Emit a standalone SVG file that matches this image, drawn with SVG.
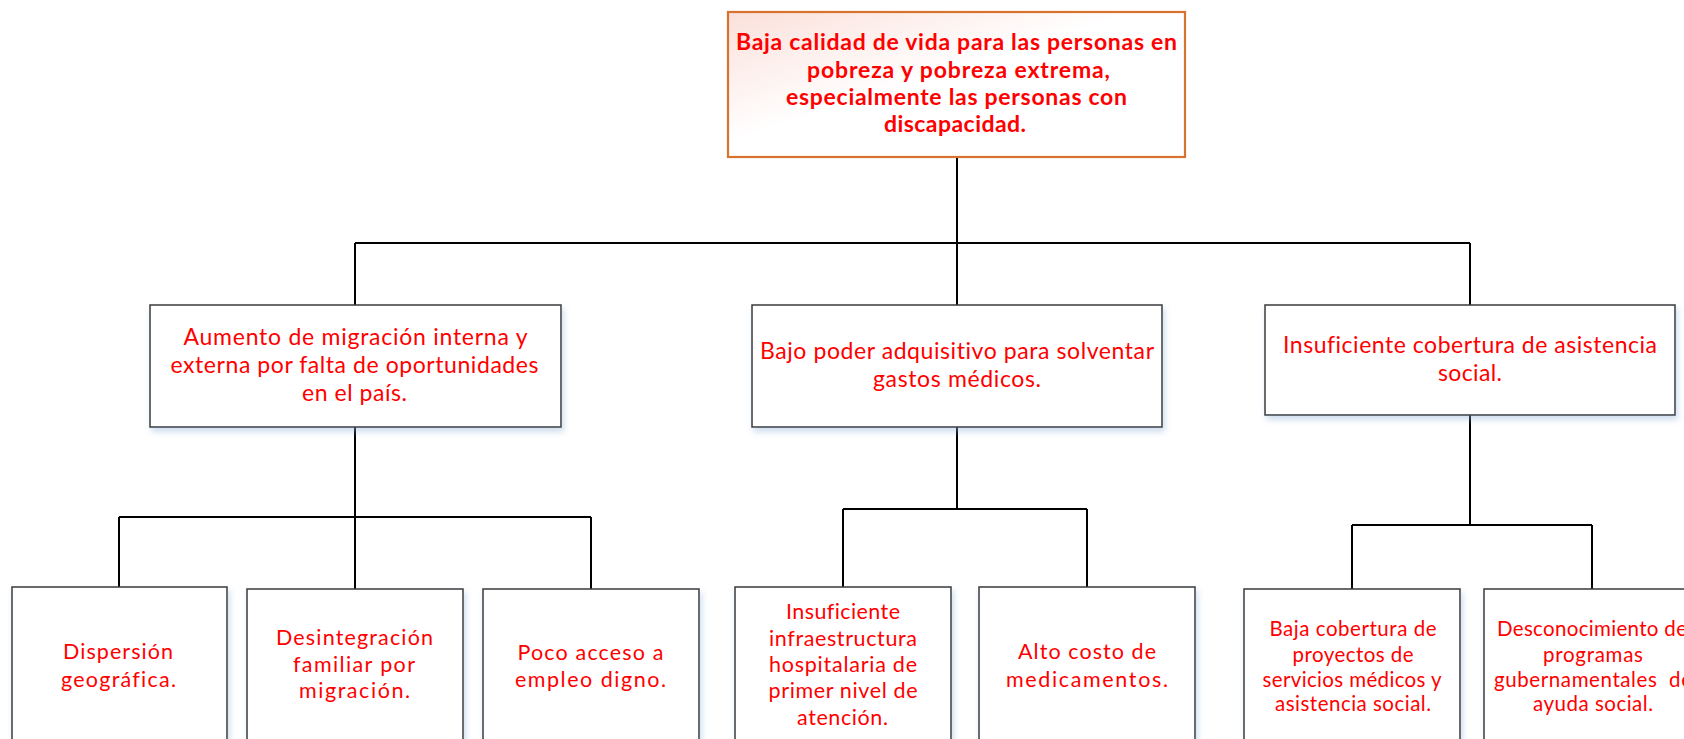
<svg xmlns="http://www.w3.org/2000/svg" width="1684" height="739" viewBox="0 0 1684 739">
<defs>
<linearGradient id="pink" x1="0" y1="0" x2="1" y2="1">
<stop offset="0" stop-color="#fbe0da"/>
<stop offset="0.45" stop-color="#ffffff"/>
<stop offset="1" stop-color="#ffffff"/>
</linearGradient>
<filter id="sh" x="-10%" y="-10%" width="125%" height="130%">
<feDropShadow dx="2" dy="4" stdDeviation="3" flood-color="#8fb2da" flood-opacity="0.45"/>
</filter>
</defs>
<style>
.box{fill:#ffffff;stroke:#3a3a3a;stroke-width:1.5;filter:url(#sh)}
.top{fill:url(#pink);stroke:#d8732f;stroke-width:2.2}
.t{font-family:Lato,"Liberation Sans",sans-serif;fill:#ff0000;text-anchor:middle;font-variant-ligatures:none}
.b{font-weight:bold;font-size:23px}
.m{font-size:23px}
.s{font-size:21.5px}
.f{font-size:20.5px}
.c{fill:none;stroke:#000000;stroke-width:2}
</style>
<rect width="1684" height="739" fill="#ffffff"/>
<g id="connectors">
<path class="c" d="M957,157V243" stroke-width="2.5"/>
<path class="c" d="M355,243H1470M355,243V305M957,243V305M1470,243V305"/>
<path class="c" d="M355,427V517M119,517H591M119,517V587M355,517V589M591,517V589"/>
<path class="c" d="M957,427V509M843,509H1087M843,509V587M1087,509V587"/>
<path class="c" d="M1470,415V525M1352,525H1592M1352,525V589M1592,525V589"/>
</g>
<g id="root">
<rect class="top" x="728" y="12" width="457" height="145"/>
<text class="t b" x="956.5" y="50" textLength="441">Baja calidad de vida para las personas en</text>
<text class="t b" x="958.5" y="77.5" textLength="303">pobreza y pobreza extrema,</text>
<text class="t b" x="956.5" y="105" textLength="341">especialmente las personas con</text>
<text class="t b" x="955" y="132" textLength="142">discapacidad.</text>
</g>
<g id="n1">
<rect class="box" x="150" y="305" width="411" height="122"/>
<text class="t m" x="355.5" y="345" textLength="344">Aumento de migración interna y</text>
<text class="t m" x="354.5" y="373" textLength="368">externa por falta de oportunidades</text>
<text class="t m" x="354.5" y="401" textLength="105">en el país.</text>
</g>
<g id="n2">
<rect class="box" x="752" y="305" width="410" height="122"/>
<text class="t m" x="957" y="359" textLength="394">Bajo poder adquisitivo para solventar</text>
<text class="t m" x="957" y="387" textLength="168">gastos médicos.</text>
</g>
<g id="n3">
<rect class="box" x="1265" y="305" width="410" height="110"/>
<text class="t m" x="1470" y="353" textLength="374">Insuficiente cobertura de asistencia</text>
<text class="t m" x="1470" y="381" textLength="64">social.</text>
</g>
<g id="n1a">
<rect class="box" x="12" y="587" width="215" height="170"/>
<text class="t s" x="118" y="659" textLength="110">Dispersión</text>
<text class="t s" x="118.5" y="687" textLength="115">geográfica.</text>
</g>
<g id="n1b">
<rect class="box" x="247" y="589" width="216" height="170"/>
<text class="t s" x="354.5" y="645" textLength="157">Desintegración</text>
<text class="t s" x="354" y="672" textLength="122">familiar por</text>
<text class="t s" x="354.5" y="698" textLength="111">migración.</text>
</g>
<g id="n1c">
<rect class="box" x="483" y="589" width="216" height="170"/>
<text class="t s" x="590.5" y="660" textLength="146">Poco acceso a</text>
<text class="t s" x="590.5" y="687" textLength="151">empleo digno.</text>
</g>
<g id="n2a">
<rect class="box" x="735" y="587" width="216" height="170"/>
<text class="t s" x="843" y="619" textLength="114">Insuficiente</text>
<text class="t s" x="843" y="646" textLength="148">infraestructura</text>
<text class="t s" x="843" y="672" textLength="148">hospitalaria de</text>
<text class="t s" x="843" y="698" textLength="149">primer nivel de</text>
<text class="t s" x="842.5" y="725" textLength="91">atención.</text>
</g>
<g id="n2b">
<rect class="box" x="979" y="587" width="216" height="170"/>
<text class="t s" x="1087" y="659" textLength="138">Alto costo de</text>
<text class="t s" x="1087" y="687" textLength="162">medicamentos.</text>
</g>
<g id="n3a">
<rect class="box" x="1244" y="589" width="216" height="170"/>
<text class="t f" x="1353" y="636" textLength="167">Baja cobertura de</text>
<text class="t f" x="1353" y="662" textLength="121">proyectos de</text>
<text class="t f" x="1352" y="687" textLength="179">servicios médicos y</text>
<text class="t f" x="1353" y="711" textLength="156">asistencia social.</text>
</g>
<g id="n3b">
<rect class="box" x="1484" y="589" width="220" height="170"/>
<text class="t f" x="1592" y="636" textLength="190">Desconocimiento de</text>
<text class="t f" x="1593" y="662" textLength="100">programas</text>
<text class="t f" x="1593" y="687" textLength="198" xml:space="preserve">gubernamentales  de</text>
<text class="t f" x="1593" y="711" textLength="120">ayuda social.</text>
</g>
</svg>
